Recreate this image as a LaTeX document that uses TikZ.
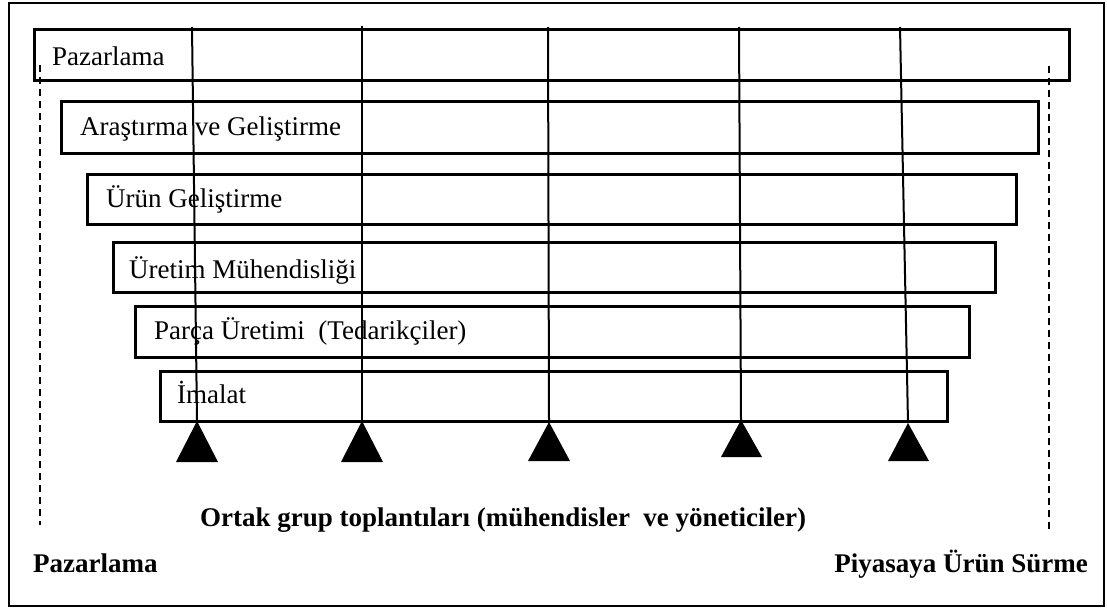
\documentclass[tikz,border=0pt]{standalone}
\usepackage{fontspec}
\setmainfont{Liberation Serif}
\begin{document}
\begin{tikzpicture}[x=1pt,y=-1pt,
  stage/.style={draw, line width=3pt, anchor=north west, inner sep=0pt},
  stagelabel/.style={anchor=base west, inner sep=0pt, font=\fontsize{27}{32}\selectfont},
  boldlabel/.style={inner sep=0pt, font=\fontsize{27}{32}\selectfont\bfseries},
  meetline/.style={line width=2pt},
  meetmark/.style={fill=black},
  bound/.style={line width=1.4pt, dash pattern=on 7pt off 5pt}]
\useasboundingbox (0,0) rectangle (1107,608);
% outer frame
\draw[line width=1.4pt] (9,3) rectangle (1104,606);

% overlapping development stages
\node[stage, minimum width=1035pt, minimum height=51pt] (b1) at (33,28) {};
\node[stage, minimum width=977pt,  minimum height=52pt] (b2) at (60,100) {};
\node[stage, minimum width=929pt,  minimum height=50pt] (b3) at (86,173) {};
\node[stage, minimum width=882pt,  minimum height=50pt] (b4) at (112,241) {};
\node[stage, minimum width=834pt,  minimum height=51pt] (b5) at (134,305) {};
\node[stage, minimum width=787pt,  minimum height=50pt] (b6) at (159,370) {};

\node[stagelabel] (l1) at (52,65)  {Pazarlama};
\node[stagelabel] (l2) at (80,135) {Araştırma ve Geliştirme};
\node[stagelabel] (l3) at (106,207) {Ürün Geliştirme};
\node[stagelabel] (l4) at (129,278) {Üretim Mühendisliği};
\node[stagelabel] (l5) at (154,339) {Parça Üretimi\ \ (Tedarikçiler)};
\node[stagelabel] (l6) at (177,403) {İmalat};

% process boundaries
\coordinate (ds) at (40,65);   \coordinate (de) at (40,525);
\coordinate (fs) at (1049,66); \coordinate (fe) at (1049,530);
\draw[bound] (ds) -- (de);
\draw[bound] (fs) -- (fe);

% joint meeting lines and markers
\coordinate (t1) at (192,27); \coordinate (a1) at (197,421);
\coordinate (t2) at (362,26); \coordinate (a2) at (362,421);
\coordinate (t3) at (548,27); \coordinate (a3) at (549,422);
\coordinate (t4) at (739,27); \coordinate (a4) at (741,420);
\coordinate (t5) at (900,27); \coordinate (a5) at (908,423);
\foreach \i in {1,...,5} \draw[meetline] (t\i) -- (a\i);
\fill[meetmark] (a1) -- ++(-21,41) -- ++(42,0) -- cycle;
\fill[meetmark] (a2) -- ++(-21,41) -- ++(42,0) -- cycle;
\fill[meetmark] (a3) -- ++(-21,39) -- ++(42,0) -- cycle;
\fill[meetmark] (a4) -- ++(-20,37) -- ++(41,0) -- cycle;
\fill[meetmark] (a5) -- ++(-20,38) -- ++(41,0) -- cycle;

% captions
\node[boldlabel, anchor=base west] (meet) at (200,526) {Ortak grup toplantıları (mühendisler\ \ ve yöneticiler)};
\node[boldlabel, anchor=base west] (start) at (33,572) {Pazarlama};
\node[boldlabel, anchor=base east] (finish) at (1088,572) {Piyasaya Ürün Sürme};
\end{tikzpicture}
\end{document}
